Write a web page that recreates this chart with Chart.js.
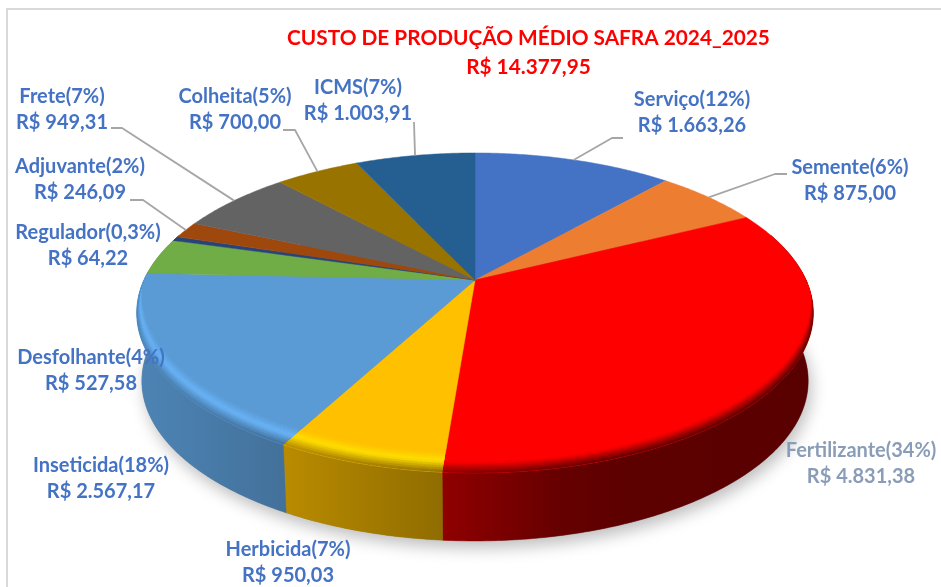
<!DOCTYPE html>
<html lang="pt-BR">
<head>
<meta charset="utf-8">
<title>Custo de produção</title>
<script src="https://cdn.jsdelivr.net/npm/chart.js@4"></script>
<style>
html,body{margin:0;padding:0;background:#fff;width:941px;height:587px;overflow:hidden}
#frame{position:absolute;left:6px;top:8px;width:941px;height:587px;border-left:2px solid #d9d9d9;border-top:2px solid #d9d9d9}
canvas{position:absolute;left:0;top:0}
</style>
</head>
<body>
<div id="frame"></div>
<canvas id="c" width="941" height="587"></canvas>
<script>
// ---------- data ----------
const categories = ["Serviço","Semente","Fertilizante","Herbicida","Inseticida","Desfolhante","Regulador","Adjuvante","Frete","Colheita","ICMS"];
const values = [1663.26,875.00,4831.38,950.03,2567.17,527.58,64.22,246.09,949.31,700.00,1003.91];
const percentLabels = ["12%","6%","34%","7%","18%","4%","0,3%","2%","7%","5%","7%"];
const titleLines = ["CUSTO DE PRODUÇÃO MÉDIO SAFRA 2024_2025","R$ 14.377,95"];

// ---------- style and layout ----------
const sliceColors = ["#4472C4","#ED7D31","#FF0000","#FFC000","#5B9BD5","#70AD47","#264478","#9E480E","#636363","#997300","#255E91"];
const labelColors = ["#4472C4","#4472C4","#8A9DB8","#4472C4","#4472C4","#4472C4","#4472C4","#4472C4","#4472C4","#4472C4","#4472C4"];
const labelCenters = [[692,100],[850,168],[861,451],[288,550],[101,466],[91,358],[88,233],[80,167],[62,97],[235,97],[358,88]];
const leaderElbows = [[[612,138],[623,138]],[[775,174],[787,174]],null,null,null,null,null,[[143,200],[130,200]],[[122,128],[111,128]],[[295,130],[283,130]],[[414,122]]];
const LABEL_FONT = 'bold 20px Lato, "Open Sans", sans-serif';
const LABEL_LINE = 26;

// projection of the unit pie disk onto the page (tilted, in perspective)
const view = {cx:475, cy:280, a:331, b:153.2, k:0.206, depth:68, bottomScale:0.985, bevel:20};
function project(theta, r){
  const u = Math.sin(theta)*r, v = -Math.cos(theta)*r, d = 1 - view.k*v;
  return [view.cx + view.a*u/d, view.cy + view.b*v/d];
}
const shadeStops = [[140,.85],[290,.72],[445,.56],[560,.40],[620,.37],[814,.35]];
function shadeAt(x){
  if(x<=shadeStops[0][0]) return shadeStops[0][1];
  for(let i=1;i<shadeStops.length;i++){
    if(x<=shadeStops[i][0]){
      const [x0,s0]=shadeStops[i-1],[x1,s1]=shadeStops[i];
      return s0+(s1-s0)*(x-x0)/(x1-x0);
    }
  }
  return shadeStops[shadeStops.length-1][1];
}
function hex(c){return [1,3,5].map(i=>parseInt(c.substr(i,2),16));}
function rgb(c){return `rgb(${c.map(x=>Math.round(Math.min(255,x))).join(',')})`;}
function mix(a,b,t){return a.map((x,i)=>x+(b[i]-x)*t);}
function quad(ctx,p,q,r,s,color){
  ctx.fillStyle=color;ctx.strokeStyle=color;ctx.lineWidth=.8;
  ctx.beginPath();ctx.moveTo(p[0],p[1]);ctx.lineTo(q[0],q[1]);ctx.lineTo(r[0],r[1]);ctx.lineTo(s[0],s[1]);ctx.closePath();
  ctx.fill();ctx.stroke();
}
const toBottom = p => [view.cx+(p[0]-view.cx)*view.bottomScale, p[1]+view.depth];
const STEP = Math.PI/300;

const tiltedPie = {
  id:'tiltedPie',
  afterLayout(chart){
    // the title sits over the right part of the picture
    chart.titleBlock.left += 58; chart.titleBlock.right += 58;
  },
  beforeDatasetsDraw(chart){
    const ctx = chart.ctx;
    const arcs = chart.getDatasetMeta(0).data;
    const colors = chart.data.datasets[0].backgroundColor;
    const spans = arcs.map((a,i)=>({s:a.startAngle+Math.PI/2,e:a.endAngle+Math.PI/2,c:hex(colors[i]),raw:colors[i]}));
    const walk = (s,e,fn)=>{const n=Math.max(1,Math.ceil((e-s)/STEP));for(let j=0;j<n;j++)fn(s+(e-s)*j/n,s+(e-s)*(j+1)/n);};
    const rimPath = (sp)=>{
      ctx.beginPath();ctx.moveTo(view.cx,view.cy);
      walk(sp.s,sp.e,(t0)=>{const p=project(t0,1);ctx.lineTo(p[0],p[1]);});
      const p=project(sp.e,1);ctx.lineTo(p[0],p[1]);
      ctx.closePath();
    };

    ctx.save();
    // drop shadow under the whole pie
    ctx.save();
    ctx.shadowColor='rgba(0,0,0,0.26)';ctx.shadowBlur=16;ctx.shadowOffsetX=3;ctx.shadowOffsetY=7;
    ctx.fillStyle='#888';ctx.beginPath();
    for(let t=0;t<=Math.PI*2+1e-6;t+=STEP){const p=toBottom(project(t,1));t===0?ctx.moveTo(p[0],p[1]):ctx.lineTo(p[0],p[1]);}
    ctx.closePath();ctx.fill();ctx.restore();

    // outer wall, shaded left to right
    spans.forEach(sp=>{
      const s=Math.max(sp.s,Math.PI*0.4), e=Math.min(sp.e,Math.PI*1.6);
      if(e<=s) return;
      const g=ctx.createLinearGradient(shadeStops[0][0],0,shadeStops[shadeStops.length-1][0],0);
      const span=shadeStops[shadeStops.length-1][0]-shadeStops[0][0];
      shadeStops.forEach(([x,f])=>g.addColorStop((x-shadeStops[0][0])/span,rgb(sp.c.map(v=>v*f))));
      ctx.beginPath();
      const top=[],bot=[];
      walk(s,e,(t0)=>{const p=project(t0,1);top.push(p);bot.push(toBottom(p));});
      const last=project(e,1);top.push(last);bot.push(toBottom(last));
      top.forEach((p,i)=>i?ctx.lineTo(p[0],p[1]):ctx.moveTo(p[0],p[1]));
      bot.reverse().forEach(p=>ctx.lineTo(p[0],p[1]));
      ctx.closePath();
      ctx.fillStyle=g;ctx.strokeStyle=g;ctx.lineWidth=.5;ctx.fill();ctx.stroke();
    });

    // flat top
    spans.forEach(sp=>{
      ctx.fillStyle=sp.raw;ctx.strokeStyle=sp.raw;ctx.lineWidth=.5;
      rimPath(sp);ctx.fill();ctx.stroke();
    });

    // rounded rim, kept inside each slice's own wedge
    const RINGS=9, inner=(p,t)=>[view.cx+(p[0]-view.cx)*(0.985+0.015*t), p[1]-view.bevel*(1-t)];
    spans.forEach(sp=>{
      ctx.save();
      rimPath(sp);ctx.clip();
      walk(sp.s-0.12,sp.e+0.12,(t0,t1)=>{
        const v=-Math.cos((t0+t1)/2);
        if(v<-0.06) return;
        const w=Math.min(1,(v+0.06)/0.25);
        const p=project(t0,1),q=project(t1,1);
        const light=sp.c.map(x=>Math.min(255,x*1.16));
        const dark=sp.c.map(x=>x*shadeAt(p[0]));
        for(let r=0;r<RINGS;r++){
          const a=r/RINGS,b=(r+1)/RINGS,m=(a+b)/2;
          const col=m<.45?mix(sp.c,light,m/.45):mix(light,dark,(m-.45)/.55);
          quad(ctx,inner(p,a),inner(q,a),inner(q,b),inner(p,b),rgb(mix(sp.c,col,w)));
        }
      });
      ctx.restore();
    });
    ctx.restore();
    return false;
  },
  afterDraw(chart){
    const ctx=chart.ctx;
    const arcs=chart.getDatasetMeta(0).data;
    ctx.save();
    // leader lines
    ctx.strokeStyle='#a6a6a6';ctx.lineWidth=1.8;ctx.lineJoin='round';
    arcs.forEach((a,i)=>{
      if(!leaderElbows[i]) return;
      const m=(a.startAngle+a.endAngle)/2+Math.PI/2;
      const p=project(m,1);
      ctx.beginPath();ctx.moveTo(p[0],p[1]);
      leaderElbows[i].forEach(q=>ctx.lineTo(q[0],q[1]));
      ctx.stroke();
    });
    // data labels
    ctx.font=LABEL_FONT;ctx.textAlign='center';ctx.textBaseline='middle';
    categories.forEach((name,i)=>{
      const money='R$ '+values[i].toFixed(2).replace('.',',').replace(/\B(?=(\d{3})+(?!\d))/g,'.');
      const [x,y]=labelCenters[i];
      ctx.fillStyle=labelColors[i];
      ctx.fillText(`${name}(${percentLabels[i]})`,x,y);
      ctx.fillText(money,x,y+LABEL_LINE);
    });
    ctx.restore();
  }
};

new Chart(document.getElementById('c'),{
  type:'pie',
  data:{labels:categories,datasets:[{data:values,backgroundColor:sliceColors,borderWidth:0}]},
  options:{
    responsive:false,animation:false,rotation:0,
    layout:{padding:0},
    plugins:{
      legend:{display:false},
      tooltip:{enabled:false},
      title:{display:true,text:titleLines,color:'#FF0000',
        font:{family:'Lato, "Open Sans", sans-serif',weight:'bold',size:20.8,lineHeight:1.4},
        padding:{top:24,bottom:0}}
    }
  },
  plugins:[tiltedPie]
});
</script>
</body>
</html>
